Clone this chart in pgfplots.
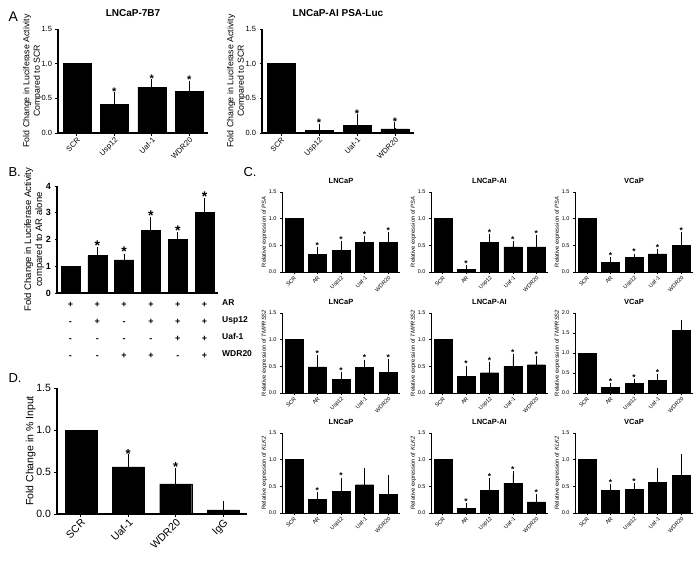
\documentclass[border=0pt]{standalone}
\usepackage{fontspec}
\setmainfont{Liberation Sans}
\usepackage{pgfplots}
\pgfplotsset{compat=1.18}
\pgfplotsset{
  gp/.style={scale only axis, enlargelimits=false, ymin=0, anchor=south west, clip=false,
    axis x line*=bottom, axis y line*=left,
    axis line style={-, line width=1.1pt},
    tick align=outside, tick style={black, line width=0.9pt}, major tick length=2.5pt,
    /pgf/number format/assume math mode=true,
    yticklabel style={/pgf/number format/fixed, /pgf/number format/fixed zerofill, /pgf/number format/precision=1}},
  rotx/.style={xticklabel style={rotate=45, anchor=north east, inner sep=1pt}},
  bars/.style={ybar, bar shift=0pt, bar width=#1, fill=black, draw=black, line width=0.4pt},
  ebars/.style n args={3}{bars=#1, error bars/y dir=plus, error bars/y explicit,
    error bars/error bar style={line width=#3, black},
    error bars/error mark options={line width=#3, mark size=#2, black}},
  stars/.style 2 args={only marks, mark=*, mark size=0.01pt, mark options={draw opacity=0, fill opacity=0},
    nodes near coords={*}, every node near coord/.append style={font=\bfseries\fontsize{#1}{#1}\selectfont,
      inner sep=0.5pt, anchor=south, yshift=#2, opacity=1, text opacity=1}},
  cst/.style={gp, rotx, width=119pt, height=80pt, xmin=-0.5, xmax=4.5, ymax=1.5,
    ytick={0,0.5,1,1.5}, xtick={0,...,4}, xticklabels={SCR,AR,Usp12,Uaf-1,WDR20},
    ticklabel style={font=\fontsize{5.5}{6}\selectfont},
    ylabel style={font=\fontsize{5.8}{7}\selectfont, yshift=-5pt},
    title style={font=\bfseries\fontsize{7.5}{8}\selectfont, yshift=-1pt}, major tick length=2pt,
    axis line style={line width=0.8pt}, tick style={line width=0.6pt}},
}
% SCR bar (no error), bars with errors, and the asterisks of panel C
\newcommand{\cscr}{\addplot[bars=18pt] coordinates {(0,1)};}
\newcommand{\cbars}{\addplot[ebars={18pt}{3.5pt}{0.8pt}]}
\newcommand{\cstars}{\addplot[stars={8.5}{1.5pt}]}
\begin{document}
\begin{tikzpicture}
\path[use as bounding box, fill=white] (0pt,0pt) rectangle (699pt,-560pt);

% panel letters
\node[anchor=west, font=\fontsize{14}{16}\selectfont] at (5pt,-17pt) {A};
\node[anchor=west, font=\fontsize{13}{15}\selectfont] at (5pt,-172pt) {B.};
\node[anchor=west, font=\fontsize{13}{15}\selectfont] at (240pt,-172pt) {C.};
\node[anchor=west, font=\fontsize{13}{15}\selectfont] at (5pt,-378pt) {D.};

% ---- A: LNCaP-7B7
\begin{axis}[gp, rotx, at={(58pt,-133pt)}, width=150pt, height=104pt,
  xmin=-0.5, xmax=3.5, ymax=1.5, ytick={0,0.5,1,1.5},
  xtick={0,...,3}, xticklabels={SCR,Usp12,Uaf-1,WDR20},
  ticklabel style={font=\fontsize{7.5}{9}\selectfont},
  title={\textbf{LNCaP-7B7}}, title style={font=\fontsize{10}{12}\selectfont, yshift=3pt},
  ylabel={Fold Change in Luciferase Activity\\Compared to SCR},
  ylabel style={align=center, font=\fontsize{8.8}{10.5}\selectfont, yshift=-7pt}]
\addplot[bars=28pt] coordinates {(0,1)};
\addplot[ebars={28pt}{6pt}{1pt}] table[x=x, y=y, y error=e, row sep=\\]
  {x y e\\ 1 0.41 0.09\\ 2 0.66 0.03\\ 3 0.60 0.07\\};
\addplot[stars={11}{2pt}] table[row sep=\\]
  {x y\\ 1 0.50\\ 2 0.69\\ 3 0.67\\};
\end{axis}

% ---- A: LNCaP-AI PSA-Luc
\begin{axis}[gp, rotx, at={(262pt,-133pt)}, width=152pt, height=104pt,
  xmin=-0.5, xmax=3.5, ymax=1.5, ytick={0,0.5,1,1.5},
  xtick={0,...,3}, xticklabels={SCR,Usp12,Uaf-1,WDR20},
  ticklabel style={font=\fontsize{7.5}{9}\selectfont},
  title={\textbf{LNCaP-AI PSA-Luc}}, title style={font=\fontsize{10}{12}\selectfont, yshift=3pt},
  ylabel={Fold Change in Luciferase Activity\\Compared to SCR},
  ylabel style={align=center, font=\fontsize{8.8}{10.5}\selectfont, yshift=-7pt}]
\addplot[bars=28pt] coordinates {(0,1)};
\addplot[ebars={28pt}{6pt}{1pt}] table[x=x, y=y, y error=e, row sep=\\]
  {x y e\\ 1 0.04 0.01\\ 2 0.11 0.08\\ 3 0.06 0.01\\};
\addplot[stars={11}{2pt}] table[row sep=\\]
  {x y\\ 1 0.05\\ 2 0.19\\ 3 0.07\\};
\end{axis}

% ---- B
\begin{axis}[gp, at={(57pt,-293pt)}, width=161pt, height=107pt,
  xmin=-0.5, xmax=5.5, ymax=4, ytick={0,...,4},
  yticklabel style={/pgf/number format/precision=0, font=\bfseries\fontsize{9}{11}\selectfont},
  xtick={0,...,5}, xtick style={draw=none},
  xticklabels={{\strut+\\-\\-\\-},{\strut+\\+\\-\\-},{\strut+\\-\\-\\+},{\strut+\\+\\-\\+},{\strut+\\+\\+\\-},{\strut+\\+\\+\\+}},
  xticklabel style={anchor=north, align=center, inner sep=0pt, yshift=0pt, font=\bfseries\fontsize{9}{17}\selectfont},
  ylabel={Fold Change in Luciferase Activity\\compared to AR alone},
  ylabel style={align=center, font=\fontsize{9.5}{11}\selectfont, yshift=-5pt}]
\addplot[bars=19pt] coordinates {(0,1)};
\addplot[ebars={19pt}{5pt}{1pt}] table[x=x, y=y, y error=e, row sep=\\]
  {x y e\\ 1 1.40 0.12\\ 2 1.24 0.05\\ 3 2.33 0.33\\ 4 2.01 0.07\\ 5 3.02 0.33\\};
\addplot[stars={14}{1pt}] table[row sep=\\]
  {x y\\ 1 1.52\\ 2 1.29\\ 3 2.66\\ 4 2.08\\ 5 3.35\\};
\node[anchor=north west, align=left, inner sep=0pt, font=\bfseries\fontsize{8.5}{17}\selectfont]
  at (axis cs:5.65,0) {\strut AR\\Usp12\\Uaf-1\\WDR20};
\end{axis}

% ---- D
\begin{axis}[gp, rotx, at={(57pt,-514pt)}, width=190pt, height=126pt,
  xmin=-0.5, xmax=3.5, ymax=1.5, ytick={0,0.5,1,1.5},
  xtick={0,...,3}, xticklabels={SCR,Uaf-1,WDR20,IgG},
  ticklabel style={font=\fontsize{10.5}{12}\selectfont},
  ylabel={Fold Change in \% Input}, ylabel style={font=\fontsize{10.5}{12}\selectfont, yshift=-6pt}]
\addplot[bars=32pt] coordinates {(0,1)};
\addplot[ebars={32pt}{7pt}{1.1pt}] table[x=x, y=y, y error=e, row sep=\\]
  {x y e\\ 1 0.56 0.07\\ 2 0.36 0.11\\ 3 0.05 0.02\\};
\addplot[stars={13}{2pt}] table[row sep=\\]
  {x y\\ 1 0.63\\ 2 0.47\\};
\end{axis}

% ---- C, row 1: PSA
\begin{axis}[cst, at={(282pt,-272pt)}, width=118pt, title={LNCaP}, ylabel={Relative expression of \textit{PSA}}]
\cscr
\cbars table[x=x, y=y, y error=e, row sep=\\]
  {x y e\\ 1 0.33 0.07\\ 2 0.40 0.12\\ 3 0.55 0.06\\ 4 0.56 0.13\\};
\cstars table[row sep=\\] {x y\\ 1 0.40\\ 2 0.52\\ 3 0.61\\ 4 0.69\\};
\end{axis}
\begin{axis}[cst, at={(431pt,-272pt)}, width=117pt, title={LNCaP-AI}, ylabel={Relative expression of \textit{PSA}}]
\cscr
\cbars table[x=x, y=y, y error=e, row sep=\\]
  {x y e\\ 1 0.05 0.02\\ 2 0.56 0.08\\ 3 0.47 0.05\\ 4 0.47 0.16\\};
\cstars table[row sep=\\] {x y\\ 1 0.07\\ 2 0.64\\ 3 0.52\\ 4 0.63\\};
\end{axis}
\begin{axis}[cst, at={(575pt,-272pt)}, width=118pt, title={VCaP}, ylabel={Relative expression of \textit{PSA}}]
\cscr
\cbars table[x=x, y=y, y error=e, row sep=\\]
  {x y e\\ 1 0.18 0.04\\ 2 0.27 0.01\\ 3 0.34 0.03\\ 4 0.50 0.18\\};
\cstars table[row sep=\\] {x y\\ 1 0.22\\ 2 0.28\\ 3 0.37\\ 4 0.68\\};
\end{axis}

% ---- C, row 2: TMPRSS2
\begin{axis}[cst, at={(282pt,-393pt)}, width=118pt, title={LNCaP}, ylabel={Relative expression of \textit{TMPRSS2}}]
\cscr
\cbars table[x=x, y=y, y error=e, row sep=\\]
  {x y e\\ 1 0.49 0.15\\ 2 0.26 0.06\\ 3 0.48 0.08\\ 4 0.39 0.18\\};
\cstars table[row sep=\\] {x y\\ 1 0.64\\ 2 0.32\\ 3 0.56\\ 4 0.57\\};
\end{axis}
\begin{axis}[cst, at={(431pt,-393pt)}, width=117pt, title={LNCaP-AI}, ylabel={Relative expression of \textit{TMPRSS2}}]
\cscr
\cbars table[x=x, y=y, y error=e, row sep=\\]
  {x y e\\ 1 0.31 0.14\\ 2 0.38 0.13\\ 3 0.50 0.16\\ 4 0.53 0.09\\};
\cstars table[row sep=\\] {x y\\ 1 0.45\\ 2 0.51\\ 3 0.66\\ 4 0.62\\};
\end{axis}
\begin{axis}[cst, at={(575pt,-393pt)}, width=118pt, ymax=2, ytick={0,0.5,1,1.5,2}, title={VCaP}, ylabel={Relative expression of \textit{TMPRSS2}}]
\cscr
\cbars table[x=x, y=y, y error=e, row sep=\\]
  {x y e\\ 1 0.14 0.03\\ 2 0.24 0.03\\ 3 0.32 0.07\\ 4 1.56 0.17\\};
\cstars table[row sep=\\] {x y\\ 1 0.17\\ 2 0.27\\ 3 0.39\\};
\end{axis}

% ---- C, row 3: KLK2
\begin{axis}[cst, at={(282pt,-513pt)}, width=118pt, title={LNCaP}, ylabel={Relative expression of \textit{KLK2}}]
\cscr
\cbars table[x=x, y=y, y error=e, row sep=\\]
  {x y e\\ 1 0.26 0.07\\ 2 0.40 0.20\\ 3 0.53 0.24\\ 4 0.35 0.29\\};
\cstars table[row sep=\\] {x y\\ 1 0.33\\ 2 0.60\\};
\end{axis}
\begin{axis}[cst, at={(431pt,-513pt)}, width=117pt, title={LNCaP-AI}, ylabel={Relative expression of \textit{KLK2}}]
\cscr
\cbars table[x=x, y=y, y error=e, row sep=\\]
  {x y e\\ 1 0.09 0.03\\ 2 0.42 0.17\\ 3 0.56 0.16\\ 4 0.21 0.08\\};
\cstars table[row sep=\\] {x y\\ 1 0.12\\ 2 0.59\\ 3 0.72\\ 4 0.29\\};
\end{axis}
\begin{axis}[cst, at={(575pt,-513pt)}, width=118pt, title={VCaP}, ylabel={Relative expression of \textit{KLK2}}]
\cscr
\cbars table[x=x, y=y, y error=e, row sep=\\]
  {x y e\\ 1 0.43 0.04\\ 2 0.44 0.06\\ 3 0.57 0.20\\ 4 0.71 0.33\\};
\cstars table[row sep=\\] {x y\\ 1 0.47\\ 2 0.50\\};
\end{axis}
\end{tikzpicture}
\end{document}
